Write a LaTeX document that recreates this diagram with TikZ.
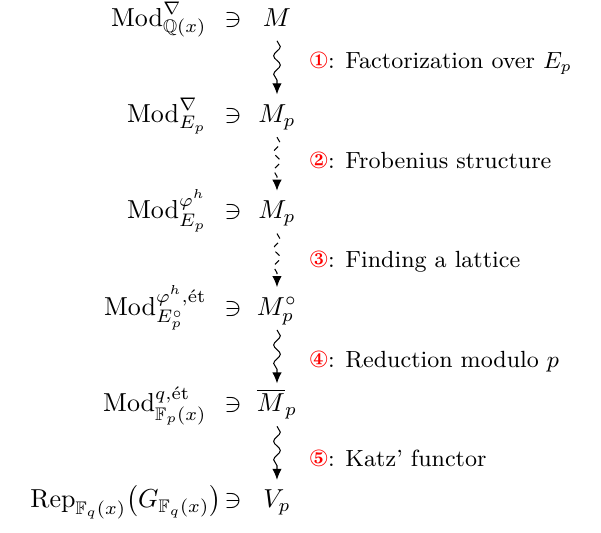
\documentclass[tikz,border=0pt]{standalone}
\usepackage{amsmath,amssymb}
\usepackage{pifont}
\usetikzlibrary{arrows.meta,decorations.pathmorphing}

\newcommand{\stepnum}[1]{\textcolor{red}{\ding{#1}}}

\begin{document}
\begin{tikzpicture}[
  cat/.style={anchor=base east,inner sep=0pt},
  elt/.style={anchor=base,inner sep=0pt},
  mem/.style={anchor=base,inner sep=0pt},
  stepnote/.style={anchor=base west,inner sep=0pt,font=\small},
  squig/.style={-{Latex[length=4.2pt,width=3.6pt]},decorate,
    decoration={snake,amplitude=.45mm,segment length=2.5mm,post length=1.2mm}},
  dsquig/.style={squig,dash pattern=on 2.2pt off 2pt}]
\useasboundingbox (0,0) rectangle (8.126,-7.206);

% categories and their objects
\node[cat] (c1) at (2.80,-0.352) {$\mathrm{Mod}^{\nabla}_{\mathbb{Q}(x)}$};
\node[elt] (e1) at (3.15,-0.352) {$\ni$};
\node[mem] (m1) at (3.745,-0.352) {$M$};

\node[cat] (c2) at (2.80,-1.655) {$\mathrm{Mod}^{\nabla}_{E_p}$};
\node[elt] (e2) at (3.15,-1.655) {$\ni$};
\node[mem] (m2) at (3.745,-1.655) {$M_p$};

\node[cat] (c3) at (2.80,-2.958) {$\mathrm{Mod}^{\varphi^h}_{E_p}$};
\node[elt] (e3) at (3.15,-2.958) {$\ni$};
\node[mem] (m3) at (3.745,-2.958) {$M_p$};

\node[cat] (c4) at (2.80,-4.261) {$\mathrm{Mod}^{\varphi^h,\text{ét}}_{E_p^{\circ}}$};
\node[elt] (e4) at (3.15,-4.261) {$\ni$};
\node[mem] (m4) at (3.745,-4.261) {$M_p^{\circ}$};

\node[cat] (c5) at (2.80,-5.564) {$\mathrm{Mod}^{q,\text{ét}}_{\mathbb{F}_p(x)}$};
\node[elt] (e5) at (3.15,-5.564) {$\ni$};
\node[mem] (m5) at (3.745,-5.564) {$\overline{M}_p$};

\node[cat] (c6) at (3.00,-6.867) {$\mathrm{Rep}_{\mathbb{F}_q(x)}\bigl(G_{\mathbb{F}_q(x)}\bigr)$};
\node[elt] (e6) at (3.15,-6.867) {$\ni$};
\node[mem] (m6) at (3.745,-6.867) {$V_p$};

% steps
\draw[squig] ([yshift=-0.2cm]m1.base) -- ([yshift=0.38cm]m2.base);
\draw[dsquig] ([yshift=-0.2cm]m2.base) -- ([yshift=0.38cm]m3.base);
\draw[dsquig] ([yshift=-0.2cm]m3.base) -- ([yshift=0.38cm]m4.base);
\draw[squig] ([yshift=-0.2cm]m4.base) -- ([yshift=0.38cm]m5.base);
\draw[squig] ([yshift=-0.2cm]m5.base) -- ([yshift=0.38cm]m6.base);

\node[stepnote] (s1) at (4.18,-0.933) {\stepnum{172}: Factorization over $E_p$};
\node[stepnote] (s2) at (4.18,-2.278) {\stepnum{173}: Frobenius structure};
\node[stepnote] (s3) at (4.18,-3.623) {\stepnum{174}: Finding a lattice};
\node[stepnote] (s4) at (4.18,-4.969) {\stepnum{175}: Reduction modulo $p$};
\node[stepnote] (s5) at (4.18,-6.314) {\stepnum{176}: Katz' functor};
\end{tikzpicture}
\end{document}
